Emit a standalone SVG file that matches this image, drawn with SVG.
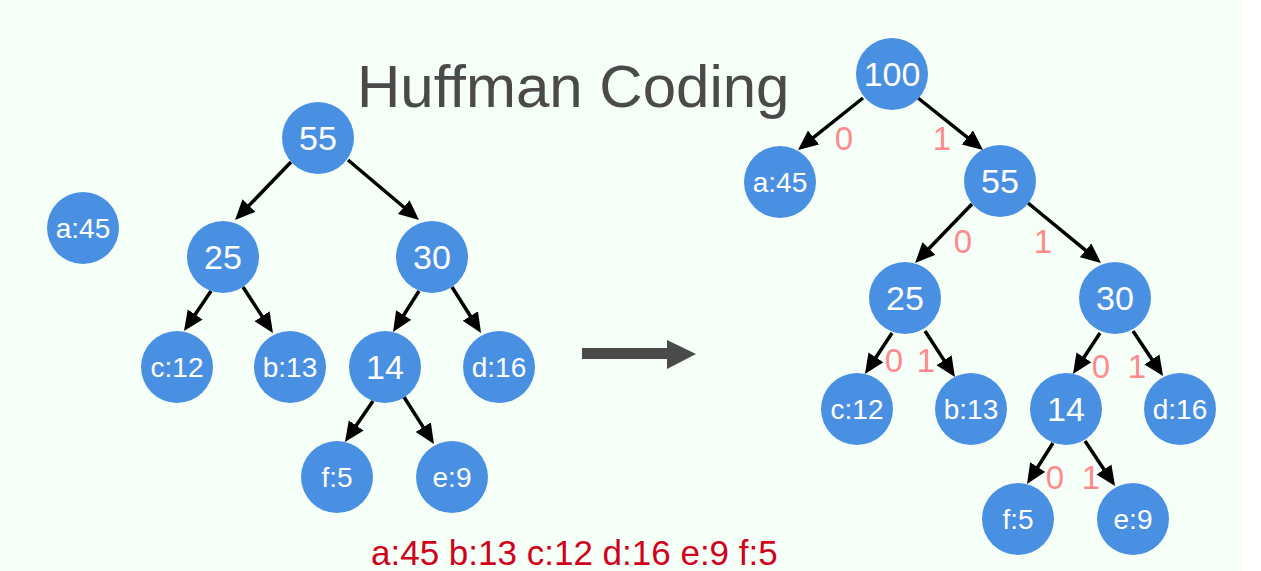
<svg xmlns="http://www.w3.org/2000/svg" width="1261" height="571" viewBox="0 0 1261 571">
<style>
.node circle{fill:#4A90E2;}
.node text{fill:#FFFFFF;font-family:"Liberation Sans",Arial,sans-serif;text-anchor:middle;dominant-baseline:central;}
.num{font-size:34px;}
.lbl{font-size:28px;}
.edge{stroke:#000000;stroke-width:3.5;fill:none;marker-end:url(#ah);}
.bit{fill:#FF8A8E;font-family:"Liberation Sans",Arial,sans-serif;font-size:33px;text-anchor:middle;dominant-baseline:central;}
</style>
<defs>
<marker id="ah" markerUnits="userSpaceOnUse" markerWidth="22" markerHeight="20" refX="10" refY="9" orient="auto">
<path d="M0,0 L20,9 L0,18 z" fill="#000000"/>
</marker>
</defs>
<rect x="0" y="0" width="1261" height="571" fill="#FFFFFF"/>
<rect x="0" y="0" width="1243" height="571" fill="#F5FFF8"/>
<text x="357" y="107" font-family="'Liberation Sans',Arial,sans-serif" font-size="60" fill="#4A4A4A">Huffman Coding</text>
<text x="371" y="565" font-family="'Liberation Sans',Arial,sans-serif" font-size="35" fill="#D0021B">a:45 b:13 c:12 d:16 e:9 f:5</text>
<g id="transform-arrow">
<path d="M582,348 L667,348 L667,340 L696,354 L667,369 L667,359 L582,359 z" fill="#4A4A4A"/>
</g>
<g id="connectors">
<line class="edge" x1="291" y1="162" x2="242" y2="212.8"/>
<line class="edge" x1="348" y1="160" x2="411.4" y2="213.5"/>
<line class="edge" x1="211" y1="291" x2="189.6" y2="322.7"/>
<line class="edge" x1="243" y1="287" x2="267.5" y2="324.6"/>
<line class="edge" x1="419" y1="291" x2="398.4" y2="323.5"/>
<line class="edge" x1="452" y1="287" x2="475.7" y2="324.5"/>
<line class="edge" x1="373" y1="401" x2="350.6" y2="433.7"/>
<line class="edge" x1="404" y1="397" x2="428.6" y2="435.6"/>
<line class="edge" x1="863" y1="98" x2="805.8" y2="143.7"/>
<line class="edge" x1="918" y1="98" x2="975.2" y2="143.7"/>
<line class="edge" x1="972" y1="204" x2="922" y2="255.8"/>
<line class="edge" x1="1028" y1="203" x2="1093.3" y2="256.7"/>
<line class="edge" x1="892" y1="333" x2="870.5" y2="365.7"/>
<line class="edge" x1="925" y1="331" x2="949.5" y2="368.6"/>
<line class="edge" x1="1100" y1="333" x2="1078.5" y2="365.7"/>
<line class="edge" x1="1133" y1="331" x2="1157.5" y2="367.7"/>
<line class="edge" x1="1053" y1="443" x2="1032.4" y2="475.5"/>
<line class="edge" x1="1085" y1="441" x2="1109.5" y2="477.7"/>
<text class="bit" x="844" y="138">0</text>
<text class="bit" x="942" y="138">1</text>
<text class="bit" x="963" y="241">0</text>
<text class="bit" x="1043" y="241">1</text>
<text class="bit" x="894" y="360">0</text>
<text class="bit" x="926" y="360">1</text>
<text class="bit" x="1101" y="366">0</text>
<text class="bit" x="1137" y="366">1</text>
<text class="bit" x="1055" y="477">0</text>
<text class="bit" x="1091" y="477">1</text>
</g>
<g id="L-a45" class="node"><circle cx="83" cy="228" r="36"/><text class="lbl" x="83" y="228">a:45</text></g>
<g id="L-55" class="node"><circle cx="318" cy="138" r="36"/><text class="num" x="318" y="138">55</text></g>
<g id="L-25" class="node"><circle cx="223" cy="257" r="36"/><text class="num" x="223" y="257">25</text></g>
<g id="L-30" class="node"><circle cx="432" cy="257" r="36"/><text class="num" x="432" y="257">30</text></g>
<g id="L-c12" class="node"><circle cx="177" cy="367" r="36"/><text class="lbl" x="177" y="367">c:12</text></g>
<g id="L-b13" class="node"><circle cx="290" cy="367" r="36"/><text class="lbl" x="290" y="367">b:13</text></g>
<g id="L-14" class="node"><circle cx="385" cy="367" r="36"/><text class="num" x="385" y="367">14</text></g>
<g id="L-d16" class="node"><circle cx="499" cy="367" r="36"/><text class="lbl" x="499" y="367">d:16</text></g>
<g id="L-f5" class="node"><circle cx="337" cy="477" r="36"/><text class="lbl" x="337" y="477">f:5</text></g>
<g id="L-e9" class="node"><circle cx="452" cy="477" r="36"/><text class="lbl" x="452" y="477">e:9</text></g>
<g id="R-100" class="node"><circle cx="892" cy="74" r="36"/><text class="num" x="892" y="74">100</text></g>
<g id="R-a45" class="node"><circle cx="780" cy="182" r="36"/><text class="lbl" x="780" y="182">a:45</text></g>
<g id="R-55" class="node"><circle cx="1000" cy="181" r="36"/><text class="num" x="1000" y="181">55</text></g>
<g id="R-25" class="node"><circle cx="905" cy="298" r="36"/><text class="num" x="905" y="298">25</text></g>
<g id="R-30" class="node"><circle cx="1115" cy="298" r="36"/><text class="num" x="1115" y="298">30</text></g>
<g id="R-c12" class="node"><circle cx="857" cy="409" r="36"/><text class="lbl" x="857" y="409">c:12</text></g>
<g id="R-b13" class="node"><circle cx="971" cy="409" r="36"/><text class="lbl" x="971" y="409">b:13</text></g>
<g id="R-14" class="node"><circle cx="1066" cy="409" r="36"/><text class="num" x="1066" y="409">14</text></g>
<g id="R-d16" class="node"><circle cx="1180" cy="409" r="36"/><text class="lbl" x="1180" y="409">d:16</text></g>
<g id="R-f5" class="node"><circle cx="1018" cy="519" r="36"/><text class="lbl" x="1018" y="519">f:5</text></g>
<g id="R-e9" class="node"><circle cx="1133" cy="519" r="36"/><text class="lbl" x="1133" y="519">e:9</text></g>
</svg>
